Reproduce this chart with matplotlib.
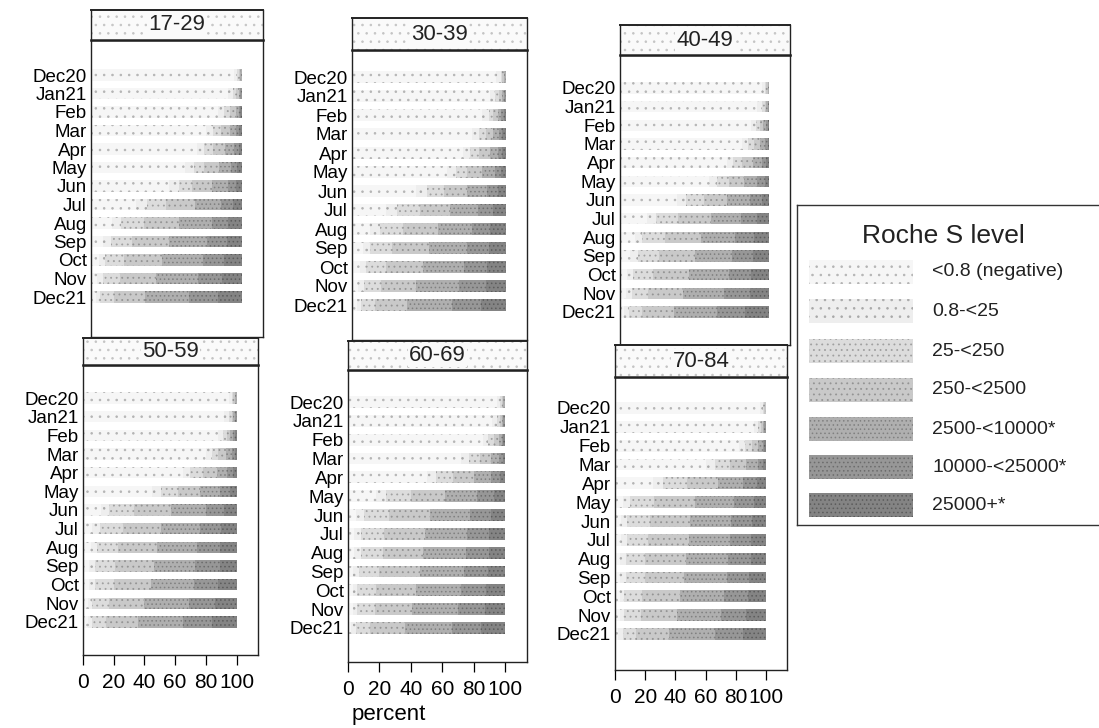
import matplotlib
matplotlib.use("Agg")
import matplotlib.pyplot as plt
from matplotlib.patches import Rectangle
import numpy as np

plt.rcParams['font.family'] = ['Liberation Sans', 'DejaVu Sans']
plt.rcParams['hatch.linewidth'] = 0.6

months = ["Dec20", "Jan21", "Feb", "Mar", "Apr", "May", "Jun", "Jul",
          "Aug", "Sep", "Oct", "Nov", "Dec21"]
levels = ["<0.8 (negative)", "0.8-<25", "25-<250", "250-<2500",
          "2500-<10000*", "10000-<25000*", "25000+*"]
age_groups = ["17-29", "30-39", "40-49", "50-59", "60-69", "70-84"]
x_ticks = [0, 20, 40, 60, 80, 100]

# percent per month (rows) and Roche S level (columns)
age_17_29 = [[95, 2, 1, 1, 1, 0, 0], [91, 3, 2, 2, 1, 1, 0], [84, 4, 4, 4, 2, 1, 1],
             [76, 5, 5, 6, 4, 2, 2], [70, 5, 6, 8, 6, 3, 2], [62, 6, 7, 10, 8, 4, 3],
             [52, 6, 9, 13, 11, 5, 4], [30, 7, 13, 19, 17, 8, 6], [14, 6, 15, 23, 22, 11, 9],
             [8, 5, 14, 25, 25, 13, 10], [5, 4, 13, 25, 27, 14, 12], [4, 4, 11, 24, 28, 16, 13],
             [3, 3, 9, 21, 29, 19, 16]]
age_30_39 = [[94, 3, 1, 1, 1, 0, 0], [90, 3, 3, 2, 1, 1, 0], [85, 4, 3, 3, 2, 2, 1],
             [78, 5, 4, 5, 4, 2, 2], [72, 5, 6, 7, 5, 3, 2], [62, 6, 7, 10, 8, 4, 3],
             [42, 7, 11, 15, 13, 7, 5], [22, 7, 15, 20, 18, 10, 8], [12, 6, 15, 23, 22, 12, 10],
             [7, 5, 14, 24, 25, 14, 11], [5, 4, 13, 24, 27, 15, 12], [4, 4, 11, 23, 28, 17, 13],
             [3, 3, 9, 21, 29, 19, 16]]
age_40_49 = [[95, 2, 1, 1, 1, 0, 0], [92, 3, 2, 1, 1, 1, 0], [88, 3, 3, 2, 2, 1, 1],
             [82, 4, 4, 4, 3, 2, 1], [72, 4, 6, 7, 6, 3, 2], [60, 5, 8, 10, 9, 5, 3],
             [38, 6, 12, 16, 15, 8, 5], [18, 6, 15, 22, 20, 11, 8], [10, 5, 15, 24, 23, 13, 10],
             [7, 5, 14, 24, 25, 14, 11], [5, 4, 13, 24, 27, 15, 12], [4, 4, 11, 23, 28, 17, 13],
             [3, 3, 9, 21, 29, 19, 16]]
age_50_59 = [[95, 2, 1, 1, 1, 0, 0], [92, 3, 2, 1, 1, 1, 0], [88, 3, 3, 2, 2, 1, 1],
             [80, 4, 4, 5, 4, 2, 1], [65, 5, 8, 9, 7, 4, 2], [45, 6, 11, 14, 13, 7, 4],
             [12, 5, 16, 24, 23, 12, 8], [6, 5, 15, 25, 25, 14, 10], [5, 4, 14, 25, 26, 15, 11],
             [4, 4, 13, 25, 27, 16, 11], [4, 4, 12, 24, 28, 16, 12], [3, 3, 11, 23, 29, 17, 14],
             [3, 3, 9, 21, 29, 19, 16]]
age_60_69 = [[95, 2, 1, 1, 1, 0, 0], [92, 3, 2, 1, 1, 1, 0], [86, 3, 4, 3, 2, 1, 1],
             [72, 5, 7, 7, 5, 3, 1], [50, 6, 11, 13, 11, 6, 3], [18, 6, 16, 22, 20, 11, 7],
             [5, 5, 16, 26, 26, 13, 9], [4, 4, 15, 26, 27, 14, 10], [4, 4, 14, 26, 27, 15, 10],
             [3, 4, 13, 26, 28, 15, 11], [3, 3, 12, 25, 29, 16, 12], [3, 3, 11, 24, 29, 17, 13],
             [2, 3, 9, 22, 30, 19, 15]]
age_70_84 = [[96, 2, 1, 1, 0, 0, 0], [92, 3, 2, 1, 1, 1, 0], [82, 4, 5, 4, 3, 1, 1],
             [60, 6, 10, 11, 8, 3, 2], [25, 7, 16, 20, 17, 9, 6], [5, 5, 16, 27, 26, 13, 8],
             [4, 4, 15, 27, 27, 14, 9], [4, 4, 14, 27, 27, 14, 10], [3, 4, 13, 27, 28, 15, 10],
             [3, 4, 13, 26, 28, 15, 11], [3, 3, 12, 25, 29, 16, 12], [3, 3, 11, 24, 29, 17, 13],
             [2, 3, 9, 22, 30, 19, 15]]
panel_data = [age_17_29, age_30_39, age_40_49, age_50_59, age_60_69, age_70_84]

fills = ["#f6f6f6", "#eeeeee", "#dcdcdc", "#c9c9c9", "#afafaf", "#979797", "#848484"]
hatch_cols = ["#b4b4b4", "#a8a8a8", "#a0a0a0", "#949494", "#808080", "#6c6c6c", "#5c5c5c"]
hatches = ["..", "..", "...", "...", "....", "....", "...."]

W, H = 1099, 728
fig = plt.figure(figsize=(W / 100, H / 100), dpi=100)
fig.patch.set_facecolor("white")


def rect(x0, y0, x1, y1):
    return [x0 / W, 1 - y1 / H, (x1 - x0) / W, (y1 - y0) / H]


# (x0, x1, strip_top, main_top, main_bottom, y_first_row, y_last_row, x_axis)
layout = [
    (91, 263, 10, 40, 337, 75, 297, False),
    (352, 527, 18, 50, 340, 77, 305, False),
    (620, 790, 25, 55, 345, 88, 312, False),
    (83, 258, 338, 365, 655, 398, 622, True),
    (348, 527, 341, 370, 662, 402, 628, True),
    (615, 787, 345, 377, 670, 408, 634, True),
]

for k, (name, data, lay) in enumerate(zip(age_groups, panel_data, layout)):
    x0, x1, st, mt, mb, yd, ye, xax = lay
    ax = fig.add_axes(rect(x0, mt, x1, mb), zorder=k + 1)
    ax.set_facecolor("white")
    arr = np.array(data, dtype=float)
    ypos = np.arange(len(months))
    left = np.zeros(len(months))
    for j in range(len(levels)):
        ax.barh(ypos, arr[:, j], left=left, height=0.62, color=fills[j],
                edgecolor=hatch_cols[j], linewidth=0, hatch=hatches[j])
        left += arr[:, j]
    unit = (ye - yd) / (len(months) - 1)
    ax.set_ylim(len(months) - 1 + (mb - ye) / unit, -(yd - mt) / unit)
    ax.set_xlim(0, 114)
    ax.set_yticks(ypos)
    ax.set_yticklabels(months, fontsize=13.5)
    ax.tick_params(axis="y", length=0, pad=3)
    for s in ax.spines.values():
        s.set_linewidth(1.0)
        s.set_color("#222222")
    if xax:
        ax.set_xticks(x_ticks)
        ax.set_xticklabels([str(t) for t in x_ticks], fontsize=15)
        ax.tick_params(axis="x", length=7, width=0.9, pad=6, direction="out")
    else:
        ax.set_xticks([])
    if name == "60-69":
        ax.set_xlabel("percent", fontsize=16)
        ax.xaxis.set_label_coords((389 - x0) / (x1 - x0), -(704 - mb) / (mb - mt))

    sax = fig.add_axes(rect(x0, st, x1, mt), zorder=k + 1)
    sax.set_xlim(0, 1)
    sax.set_ylim(0, 1)
    sax.set_xticks([])
    sax.set_yticks([])
    sax.add_patch(Rectangle((0, 0), 1, 1, facecolor="#fafafa", edgecolor="#c4c4c4",
                            hatch="..", linewidth=0, transform=sax.transAxes))
    for s in sax.spines.values():
        s.set_color("#222222")
        s.set_linewidth(1.0)
    sax.spines["bottom"].set_linewidth(1.8)
    sax.spines["top"].set_linewidth(1.4)
    sax.text(0.5, 0.5, name, ha="center", va="center", fontsize=16, color="#222222",
             bbox=dict(facecolor="#fafafa", edgecolor="none", pad=1))

# legend box
lax = fig.add_axes(rect(797, 205, 1099, 525), zorder=10)
lax.set_xlim(797, 1099)
lax.set_ylim(525, 205)
lax.set_xticks([])
lax.set_yticks([])
lax.spines["right"].set_visible(False)
for s in ["left", "top", "bottom"]:
    lax.spines[s].set_color("#333333")
    lax.spines[s].set_linewidth(1.0)
lax.text(943, 236, "Roche S level", ha="center", va="center", fontsize=19, color="#222222")
row_y = [272, 311, 351, 390, 429, 467, 505]
for j, lab in enumerate(levels):
    yc = row_y[j]
    lax.add_patch(Rectangle((809, yc - 12), 104, 24, facecolor=fills[j],
                            edgecolor=hatch_cols[j], hatch=hatches[j], linewidth=0,
                            clip_on=False))
    lax.text(932, yc, lab, ha="left", va="center", fontsize=14, color="#222222",
             clip_on=False)

fig.savefig("out.png", dpi=100)
